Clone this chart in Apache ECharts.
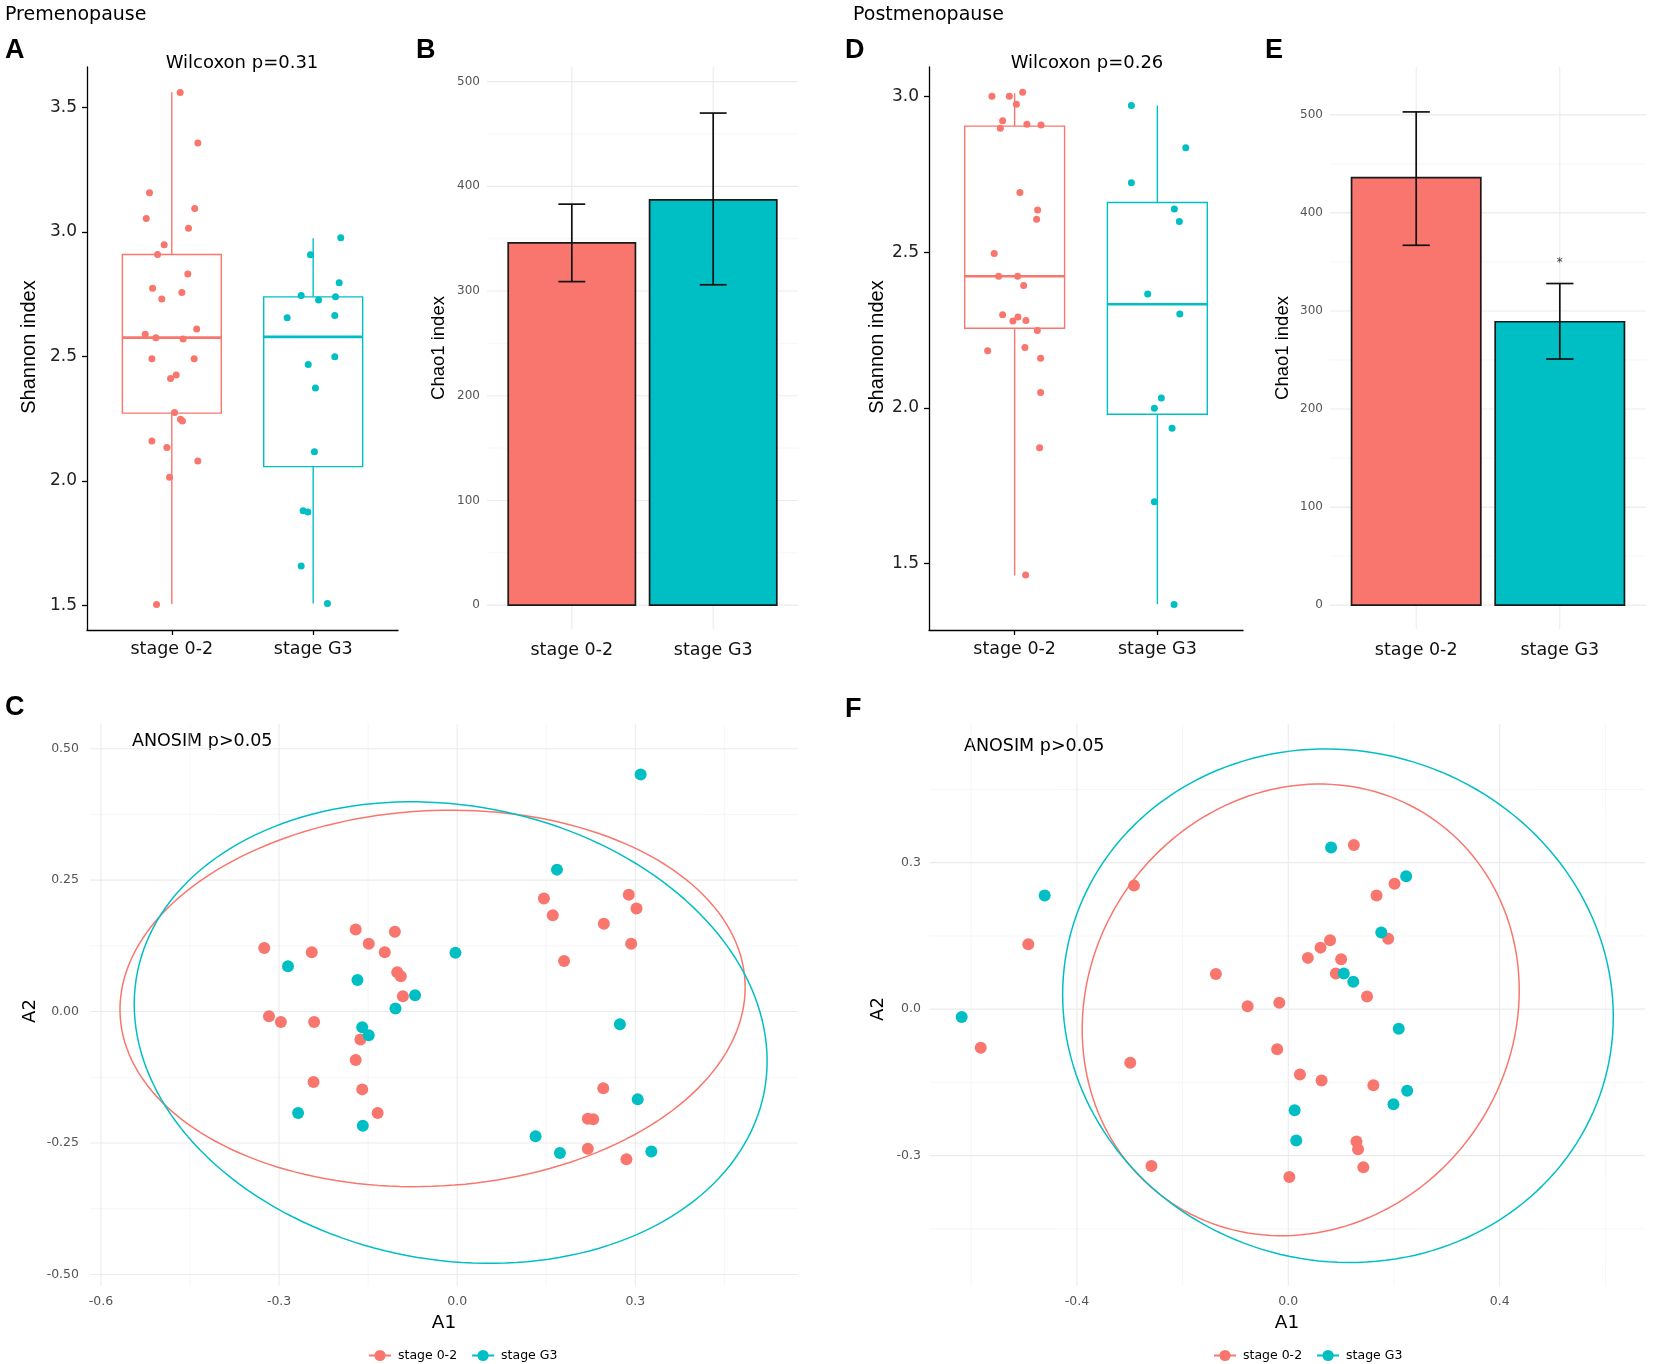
<!DOCTYPE html>
<html>
<head>
<meta charset="utf-8">
<title>Alpha and beta diversity by stage</title>
<script src="https://cdn.jsdelivr.net/npm/echarts@6/dist/echarts.min.js"></script>
<style>
html,body{margin:0;padding:0;background:#ffffff;}
#chart{width:1654px;height:1364px;}
</style>
</head>
<body>
<div id="chart"></div>
<script>
// ================= DATA =================
const groups = ['stage 0-2', 'stage G3'];

// Panel A: Premenopause Shannon (jittered points: x = group position + jitter)
const preShannonLowX = [1.059,1.184,0.842,1.162,0.819,1.118,0.946,0.899,1.113,0.864,1.071,0.929,1.176,0.812,0.887,1.080,0.859,1.158,1.031,0.991,1.019,1.061,1.075,0.859,0.965,1.184,0.984,0.892];
const preShannonLowY = [3.560,3.357,3.157,3.094,3.054,3.014,2.948,2.909,2.831,2.773,2.756,2.730,2.610,2.589,2.575,2.570,2.490,2.490,2.425,2.411,2.274,2.247,2.240,2.160,2.134,2.080,2.014,1.503];
const preShannonHighX = [2.195,1.981,1.915,2.038,2.184,2.158,1.816,2.153,1.965,2.153,2.016,2.009,1.929,1.962,1.915,2.101];
const preShannonHighY = [2.976,2.908,2.744,2.726,2.796,2.739,2.655,2.664,2.467,2.498,2.373,2.117,1.880,1.875,1.658,1.507];
// [group, lower whisker, Q1, median, Q3, upper whisker]
const preShannonBoxes = [[1, 1.505, 2.272, 2.575, 2.909, 3.561], [2, 1.507, 2.057, 2.578, 2.739, 2.974]];
const preShannonTicks = [1.5, 2.0, 2.5, 3.0, 3.5];

// Panel B: Premenopause Chao1
const preChaoMean = [346, 387];
const preChaoLow = [309, 306];
const preChaoHigh = [383, 470];

// Panel D: Postmenopause Shannon
const postShannonLowX = [0.841,0.963,1.056,1.012,0.916,0.900,1.086,1.185,1.037,1.161,1.154,0.857,0.888,1.021,1.063,0.916,1.023,0.988,1.079,1.159,0.811,1.072,1.182,1.182,1.175,1.077];
const postShannonLowY = [3.001,3.001,3.014,2.975,2.922,2.898,2.911,2.909,2.692,2.636,2.606,2.496,2.423,2.423,2.393,2.299,2.292,2.279,2.281,2.249,2.184,2.194,2.160,2.050,1.872,1.464];
const postShannonHighX = [1.818,2.199,1.818,2.119,2.154,1.932,2.157,2.028,1.979,2.103,1.979,2.117];
const postShannonHighY = [2.971,2.836,2.723,2.639,2.599,2.366,2.302,2.032,1.999,1.935,1.699,1.369];
const postShannonBoxes = [[1, 1.462, 2.256, 2.423, 2.905, 3.011], [2, 1.370, 1.980, 2.333, 2.660, 2.971]];
const postShannonTicks = [1.5, 2.0, 2.5, 3.0];

// Panel E: Postmenopause Chao1
const postChaoMean = [436, 289];
const postChaoLow = [367, 251];
const postChaoHigh = [503, 328];
const postChaoSignif = [[2, 352, '*']];

const chaoTicks = [0, 100, 200, 300, 400, 500];
const chaoMinorTicks = [50, 150, 250, 350, 450];

// Panel C: Premenopause PCoA (A1, A2)
const prePcoaLow = [[-0.325,0.121],[-0.245,0.113],[-0.171,0.156],[-0.149,0.129],[-0.105,0.152],[-0.122,0.113],[-0.101,0.075],[-0.095,0.067],[-0.0915,0.029],[-0.317,-0.009],[-0.297,-0.020],[-0.241,-0.020],[-0.163,-0.053],[-0.171,-0.092],[-0.242,-0.134],[-0.160,-0.148],[-0.134,-0.193],[0.146,0.215],[0.161,0.183],[0.289,0.222],[0.302,0.196],[0.247,0.167],[0.293,0.129],[0.180,0.096],[0.246,-0.146],[0.220,-0.204],[0.229,-0.205],[0.220,-0.261],[0.285,-0.281]];
const prePcoaHigh = [[-0.285,0.086],[-0.168,0.060],[-0.071,0.031],[-0.104,0.006],[-0.160,-0.030],[-0.149,-0.045],[-0.268,-0.193],[-0.159,-0.217],[0.309,0.451],[0.168,0.270],[-0.003,0.112],[0.274,-0.024],[0.304,-0.167],[0.132,-0.237],[0.173,-0.269],[0.327,-0.266]];
// ellipse parameters: [centre A1, centre A2, half-width, half-height, A2 shift at A1 extremes]
const prePcoaEllipses = [[-0.0415, 0.025, 0.5265, 0.358, 0.021], [-0.011, -0.040, 0.533, 0.439, -0.054]];
const prePcoaXTicks = [-0.6, -0.3, 0.0, 0.3];
const prePcoaXLabels = ['-0.6', '-0.3', '0.0', '0.3'];
const prePcoaXMinor = [-0.45, -0.15, 0.15, 0.45];
const prePcoaYTicks = [-0.5, -0.25, 0.0, 0.25, 0.5];
const prePcoaYLabels = ['-0.50', '-0.25', '0.00', '0.25', '0.50'];
const prePcoaYMinor = [-0.375, -0.125, 0.125, 0.375];

// Panel F: Postmenopause PCoA
const postPcoaLow = [[-0.492,0.133],[-0.582,-0.079],[-0.292,0.253],[-0.137,0.072],[-0.077,0.006],[-0.299,-0.110],[-0.259,-0.321],[-0.017,0.013],[0.124,0.336],[0.201,0.257],[0.167,0.233],[0.189,0.144],[0.079,0.141],[0.061,0.126],[0.037,0.105],[0.100,0.102],[0.090,0.073],[0.149,0.026],[-0.021,-0.082],[0.022,-0.134],[0.063,-0.146],[0.161,-0.156],[0.129,-0.271],[0.132,-0.287],[0.142,-0.324],[0.002,-0.344]];
const postPcoaHigh = [[-0.461,0.233],[-0.618,-0.016],[0.081,0.331],[0.223,0.272],[0.176,0.157],[0.105,0.073],[0.123,0.056],[0.209,-0.040],[0.225,-0.167],[0.199,-0.195],[0.012,-0.207],[0.015,-0.269]];
const postPcoaEllipses = [[0.0235, -0.0015, 0.4135, 0.4625, 0.040], [0.094, 0.007, 0.521, 0.526, -0.0225]];
const postPcoaXTicks = [-0.4, 0.0, 0.4];
const postPcoaXLabels = ['-0.4', '0.0', '0.4'];
const postPcoaXMinor = [-0.6, -0.2, 0.2, 0.6];
const postPcoaYTicks = [-0.3, 0.0, 0.3];
const postPcoaYLabels = ['-0.3', '0.0', '0.3'];
const postPcoaYMinor = [-0.45, -0.15, 0.15, 0.45];

// ================= STYLE / HELPERS =================
const PAL = ['#F8766D', '#00BFC4'];
const FONT = 'DejaVu Sans';
const ARIAL = 'Liberation Sans';

function lookup(ticks, labels) {
  return function (v) {
    const i = ticks.findIndex(t => Math.abs(t - v) < 1e-6);
    return i >= 0 ? labels[i] : '';
  };
}
const groupLabel = v => groups[Math.round(v) - 1];

const grids = [
  {left: 87,   top: 67,  width: 311, height: 563}, // A
  {left: 487,  top: 67,  width: 311, height: 562}, // B
  {left: 929,  top: 67,  width: 314, height: 563}, // D
  {left: 1330, top: 67,  width: 316, height: 562}, // E
  {left: 90,   top: 724, width: 708, height: 562}, // C
  {left: 930,  top: 724, width: 715, height: 562}  // F
].map(g => Object.assign({outerBoundsMode: 'none', containLabel: false}, g));

function classicX(i) {
  return {gridIndex: i, type: 'value', min: 0.4, max: 2.6,
    axisLine: {show: true, onZero: false, lineStyle: {color: '#000', width: 1.3}},
    axisTick: {show: true, customValues: [1, 2], length: 5, lineStyle: {color: '#000', width: 1.3}},
    axisLabel: {show: true, customValues: [1, 2], formatter: groupLabel, color: '#111', fontSize: 17.5, fontFamily: FONT, margin: 10},
    splitLine: {show: false}};
}
function classicY(i, min, max, ticks) {
  return {gridIndex: i, type: 'value', min: min, max: max,
    axisLine: {show: true, onZero: false, lineStyle: {color: '#000', width: 1.3}},
    axisTick: {show: true, customValues: ticks, length: 5, lineStyle: {color: '#000', width: 1.3}},
    axisLabel: {show: true, customValues: ticks, formatter: v => v.toFixed(1), color: '#222', fontSize: 17, fontFamily: FONT, margin: 10},
    splitLine: {show: false}};
}
function minimalX(i) {
  return {gridIndex: i, type: 'value', min: 0.4, max: 2.6,
    axisLine: {show: false, onZero: false}, axisTick: {show: false},
    axisLabel: {show: true, customValues: [1, 2], formatter: groupLabel, color: '#111', fontSize: 17.5, fontFamily: FONT, margin: 12},
    splitLine: {show: false}};
}
function minimalY(i, min, max) {
  return {gridIndex: i, type: 'value', min: min, max: max,
    axisLine: {show: false, onZero: false}, axisTick: {show: false},
    axisLabel: {show: true, customValues: chaoTicks, formatter: v => String(v), color: '#555', fontSize: 12, fontFamily: FONT, margin: 7},
    splitLine: {show: false}};
}
function pcoaAxis(i, dim, min, max, ticks, labels, margin) {
  return {gridIndex: i, type: 'value', min: min, max: max,
    axisLine: {show: false, onZero: false}, axisTick: {show: false},
    axisLabel: {show: true, customValues: ticks, formatter: lookup(ticks, labels), color: '#555', fontSize: 12.5, fontFamily: FONT, margin: margin},
    splitLine: {show: false}};
}

function gridLines(i, hMajor, hMinor, vMajor, vMinor) {
  return {type: 'custom', xAxisIndex: i, yAxisIndex: i, silent: true, z: 0, clip: false,
    data: [[0, 0]],
    renderItem: function (params, api) {
      const cs = params.coordSys;
      const ch = [];
      const addH = (v, w, c) => { const y = api.coord([0, v])[1];
        ch.push({type: 'line', shape: {x1: cs.x, y1: y, x2: cs.x + cs.width, y2: y}, style: {stroke: c, lineWidth: w}}); };
      const addV = (v, w, c) => { const x = api.coord([v, 0])[0];
        ch.push({type: 'line', shape: {x1: x, y1: cs.y, x2: x, y2: cs.y + cs.height}, style: {stroke: c, lineWidth: w}}); };
      hMinor.forEach(v => addH(v, 0.7, '#f2f2f2'));
      vMinor.forEach(v => addV(v, 0.7, '#f2f2f2'));
      hMajor.forEach(v => addH(v, 1.1, '#ebebeb'));
      vMajor.forEach(v => addV(v, 1.1, '#ebebeb'));
      return {type: 'group', children: ch};
    }};
}

function boxSeries(i, boxes) {
  return {type: 'custom', xAxisIndex: i, yAxisIndex: i, silent: true, z: 2,
    data: boxes,
    renderItem: function (params, api) {
      const c = PAL[params.dataIndex];
      const x = api.value(0), lo = api.value(1), q1 = api.value(2), md = api.value(3), q3 = api.value(4), hi = api.value(5);
      const hw = 0.35;
      const tl = api.coord([x - hw, q3]), br = api.coord([x + hw, q1]);
      const pHi = api.coord([x, hi]), pQ3 = api.coord([x, q3]), pQ1 = api.coord([x, q1]), pLo = api.coord([x, lo]);
      const mL = api.coord([x - hw, md]), mR = api.coord([x + hw, md]);
      return {type: 'group', children: [
        {type: 'line', shape: {x1: pHi[0], y1: pHi[1], x2: pQ3[0], y2: pQ3[1]}, style: {stroke: c, lineWidth: 1.4}},
        {type: 'line', shape: {x1: pQ1[0], y1: pQ1[1], x2: pLo[0], y2: pLo[1]}, style: {stroke: c, lineWidth: 1.4}},
        {type: 'rect', shape: {x: tl[0], y: tl[1], width: br[0] - tl[0], height: br[1] - tl[1]}, style: {fill: '#ffffff', stroke: c, lineWidth: 1.4}},
        {type: 'line', shape: {x1: mL[0], y1: mL[1], x2: mR[0], y2: mR[1]}, style: {stroke: c, lineWidth: 2.6}}
      ]};
    }};
}

function jitterSeries(i, xs, ys, g) {
  return {type: 'scatter', xAxisIndex: i, yAxisIndex: i, silent: true, z: 5,
    data: xs.map((x, k) => [x, ys[k]]), symbol: 'circle', symbolSize: 7,
    itemStyle: {color: PAL[g], opacity: 1}};
}

function barSeries(i, means) {
  return {type: 'custom', xAxisIndex: i, yAxisIndex: i, silent: true, z: 2,
    data: means.map((m, k) => [k + 1, m]),
    renderItem: function (params, api) {
      const x = api.value(0), y = api.value(1);
      const a = api.coord([x - 0.45, y]), b = api.coord([x + 0.45, 0]);
      return {type: 'rect', shape: {x: a[0], y: a[1], width: b[0] - a[0], height: b[1] - a[1]},
        style: {fill: PAL[params.dataIndex], stroke: '#1a1a1a', lineWidth: 1.7}};
    }};
}

function errorSeries(i, lo, hi) {
  return {type: 'custom', xAxisIndex: i, yAxisIndex: i, silent: true, z: 3,
    data: lo.map((l, k) => [k + 1, l, hi[k]]),
    renderItem: function (params, api) {
      const x = api.value(0), l = api.value(1), h = api.value(2);
      const pl = api.coord([x, l]), ph = api.coord([x, h]);
      const ll = api.coord([x - 0.095, l]), lr = api.coord([x + 0.095, l]);
      const hl = api.coord([x - 0.095, h]), hr = api.coord([x + 0.095, h]);
      const st = {stroke: '#111', lineWidth: 1.7};
      return {type: 'group', children: [
        {type: 'line', shape: {x1: pl[0], y1: pl[1], x2: ph[0], y2: ph[1]}, style: st},
        {type: 'line', shape: {x1: ll[0], y1: ll[1], x2: lr[0], y2: lr[1]}, style: st},
        {type: 'line', shape: {x1: hl[0], y1: hl[1], x2: hr[0], y2: hr[1]}, style: st}
      ]};
    }};
}

function ellipseCurve(p) {
  const cx = p[0], cy = p[1], rx = p[2], ry = p[3], k = p[4];
  const s = Math.sqrt(ry * ry - k * k);
  const pts = [];
  for (let d = 0; d <= 360; d += 2) {
    const t = d * Math.PI / 180;
    pts.push([cx + rx * Math.cos(t), cy + k * Math.cos(t) + s * Math.sin(t)]);
  }
  return pts;
}
function ellipseSeries(i, params, g) {
  return {type: 'line', name: groups[g], xAxisIndex: i, yAxisIndex: i, silent: true, z: 4,
    data: ellipseCurve(params), showSymbol: false, symbol: 'circle', smooth: false,
    lineStyle: {color: PAL[g], width: 1.5}, itemStyle: {color: PAL[g]}};
}
function pcoaPoints(i, pts, g) {
  return {type: 'scatter', xAxisIndex: i, yAxisIndex: i, silent: true, z: 5,
    data: pts, symbol: 'circle', symbolSize: 12, itemStyle: {color: PAL[g], opacity: 1}};
}

function txt(text, x, y, size, align, family, weight) {
  return {type: 'text', x: x, y: y, silent: true,
    style: {text: text, fontSize: size, fontFamily: family || FONT, fontWeight: weight || 'normal', fill: '#000', align: align || 'left', verticalAlign: 'middle'}};
}
function vtxt(text, x, y, size, family) {
  return {type: 'text', x: x, y: y, rotation: Math.PI / 2, silent: true,
    style: {text: text, fontSize: size, fontFamily: family || FONT, fill: '#000', align: 'center', verticalAlign: 'middle'}};
}

// ================= OPTION =================
const option = {
  backgroundColor: '#ffffff',
  animation: false,
  grid: grids,
  xAxis: [
    classicX(0),
    minimalX(1),
    classicX(2),
    minimalX(3),
    pcoaAxis(4, 'x', -0.6185, 0.574, prePcoaXTicks, prePcoaXLabels, 9),
    pcoaAxis(5, 'x', -0.678, 0.675, postPcoaXTicks, postPcoaXLabels, 9)
  ],
  yAxis: [
    classicY(0, 1.401, 3.662, preShannonTicks),
    minimalY(1, -22.8, 514),
    classicY(2, 1.287, 3.095, postShannonTicks),
    minimalY(3, -24.3, 548.8),
    pcoaAxis(4, 'y', -0.522, 0.547, prePcoaYTicks, prePcoaYLabels, 11),
    pcoaAxis(5, 'y', -0.567, 0.584, postPcoaYTicks, postPcoaYLabels, 9)
  ],
  legend: [
    {left: 363, top: 1344, orient: 'horizontal', selectedMode: false, data: groups,
     itemWidth: 22, itemHeight: 14, itemGap: 14,
     textStyle: {fontSize: 12.5, fontFamily: FONT, color: '#000', padding: [0, 0, 0, 2]}},
    {left: 1208, top: 1344, orient: 'horizontal', selectedMode: false, data: groups,
     itemWidth: 22, itemHeight: 14, itemGap: 14,
     textStyle: {fontSize: 12.5, fontFamily: FONT, color: '#000', padding: [0, 0, 0, 2]}}
  ],
  series: [
    // A
    boxSeries(0, preShannonBoxes),
    jitterSeries(0, preShannonLowX, preShannonLowY, 0),
    jitterSeries(0, preShannonHighX, preShannonHighY, 1),
    // B
    gridLines(1, chaoTicks, chaoMinorTicks, [1, 2], []),
    barSeries(1, preChaoMean),
    errorSeries(1, preChaoLow, preChaoHigh),
    // D
    boxSeries(2, postShannonBoxes),
    jitterSeries(2, postShannonLowX, postShannonLowY, 0),
    jitterSeries(2, postShannonHighX, postShannonHighY, 1),
    // E
    gridLines(3, chaoTicks, chaoMinorTicks, [1, 2], []),
    barSeries(3, postChaoMean),
    errorSeries(3, postChaoLow, postChaoHigh),
    {type: 'scatter', xAxisIndex: 3, yAxisIndex: 3, silent: true, z: 6,
     data: postChaoSignif.map(d => [d[0], d[1]]), symbol: 'circle', symbolSize: 1,
     itemStyle: {color: 'rgba(0,0,0,0)'},
     label: {show: true, position: 'inside', formatter: p => postChaoSignif[p.dataIndex][2], fontSize: 12, color: '#000', fontFamily: FONT, offset: [0, 3]}},
    // C
    gridLines(4, prePcoaYTicks, prePcoaYMinor, prePcoaXTicks, prePcoaXMinor),
    ellipseSeries(4, prePcoaEllipses[0], 0),
    ellipseSeries(4, prePcoaEllipses[1], 1),
    pcoaPoints(4, prePcoaLow, 0),
    pcoaPoints(4, prePcoaHigh, 1),
    // F
    gridLines(5, postPcoaYTicks, postPcoaYMinor, postPcoaXTicks, postPcoaXMinor),
    ellipseSeries(5, postPcoaEllipses[0], 0),
    ellipseSeries(5, postPcoaEllipses[1], 1),
    pcoaPoints(5, postPcoaLow, 0),
    pcoaPoints(5, postPcoaHigh, 1)
  ],
  graphic: [
    txt('Premenopause', 5, 15, 19),
    txt('Postmenopause', 853, 15, 19),
    txt('A', 5, 51, 27, 'left', ARIAL, 'bold'),
    txt('B', 416, 51, 27, 'left', ARIAL, 'bold'),
    txt('D', 845, 51, 27, 'left', ARIAL, 'bold'),
    txt('E', 1265, 51, 27, 'left', ARIAL, 'bold'),
    txt('C', 5, 708, 27, 'left', ARIAL, 'bold'),
    txt('F', 845, 710, 27, 'left', ARIAL, 'bold'),
    txt('Wilcoxon p=0.31', 242, 63, 18, 'center'),
    txt('Wilcoxon p=0.26', 1087, 63, 18, 'center'),
    txt('ANOSIM p>0.05', 132, 741, 17.5, 'left'),
    txt('ANOSIM p>0.05', 964, 746, 17.5, 'left'),
    vtxt('Shannon index', 29, 347, 20, ARIAL),
    vtxt('Shannon index', 877.5, 347, 20, ARIAL),
    vtxt('Chao1 index', 439, 348, 18.5, ARIAL),
    vtxt('Chao1 index', 1283, 348, 18.5, ARIAL),
    vtxt('A2', 30.5, 1011, 18),
    vtxt('A2', 878, 1009, 18),
    txt('A1', 444, 1323, 18.5, 'center'),
    txt('A1', 1287, 1323, 18.5, 'center')
  ]
};

const chart = echarts.init(document.getElementById('chart'), null, {renderer: 'canvas', width: 1654, height: 1364});
chart.setOption(option);
</script>
</body>
</html>
